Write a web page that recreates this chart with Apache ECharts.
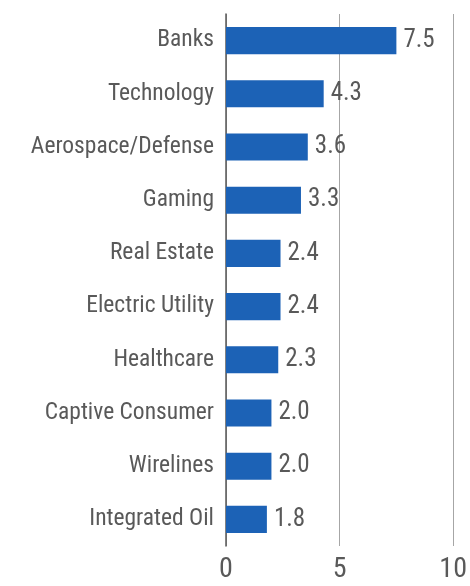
<!DOCTYPE html>
<html><head><meta charset="utf-8">
<script src="https://cdn.jsdelivr.net/npm/echarts@6/dist/echarts.min.js"></script>
<style>html,body{margin:0;padding:0;background:#fff}#c{width:470px;height:586px}</style>
</head><body><div id="c"></div>
<script>
const categories = ["Banks","Technology","Aerospace/Defense","Gaming","Real Estate","Electric Utility","Healthcare","Captive Consumer","Wirelines","Integrated Oil"];
const values = [7.5,4.3,3.6,3.3,2.4,2.4,2.3,2.0,2.0,1.8];
const xTicks = [0,5,10];
const FONT = "'Liberation Sans Narrow', 'Roboto Condensed', Roboto, sans-serif";
const chart = echarts.init(document.getElementById('c'));
chart.setOption({
  animation:false,
  grid:{left:226,right:13,top:14,bottom:40,containLabel:false},
  xAxis:{type:'value',min:0,max:10,interval:5,
    axisLine:{show:false},axisTick:{show:false},
    splitLine:{show:true,lineStyle:{color:'#a6a6a6',width:1}},
    axisLabel:{color:'#595959',fontSize:28,fontFamily:FONT,margin:10,
      formatter:v=>xTicks.includes(v)?String(v):''}},
  yAxis:{type:'category',data:categories,inverse:true,
    axisLine:{show:true,lineStyle:{color:'#595959',width:1.5}},axisTick:{show:false},
    axisLabel:{color:'#595959',fontSize:23.5,fontFamily:FONT,margin:12}},
  series:[{type:'bar',data:values,barCategoryGap:'49%',
    itemStyle:{color:'#1C62B6'},
    label:{show:true,position:'right',distance:7,color:'#595959',fontSize:25,fontFamily:FONT,
      formatter:p=>p.value.toFixed(1)}}]
});
</script></body></html>
